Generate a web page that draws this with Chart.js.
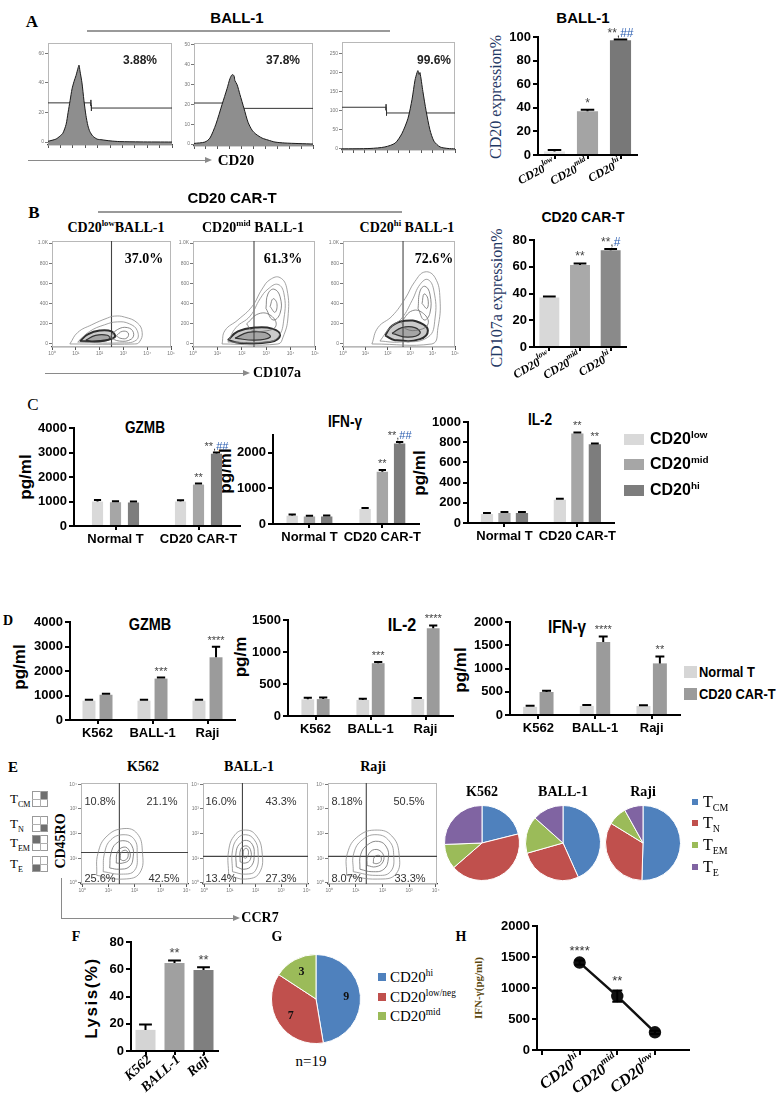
<!DOCTYPE html>
<html>
<head>
<meta charset="utf-8">
<title>CD20 CAR-T figure</title>
<script src="https://cdn.jsdelivr.net/npm/chart.js@4.4.1/dist/chart.umd.min.js"></script>
<style>
  html, body { margin: 0; padding: 0; background: #fff; }
  body { position: relative; width: 776px; height: 1102px; overflow: hidden; }
  .t { position: absolute; transform: translate(-50%, -50%); white-space: nowrap; line-height: 1; color: #000; }
  .t sup, .t sub { font-size: 62%; line-height: 0; }
  .ln { position: absolute; }
  canvas { position: absolute; }
</style>
</head>
<body>
<script>
// ---------- A: CD20 histograms (x in log decades, y = count) ----------
const histLowX = [0, 0.32, 0.48, 0.6, 0.73, 0.81, 0.89, 0.97, 1.05, 1.13, 1.21, 1.25, 1.29, 1.37, 1.45, 1.53, 1.61, 1.69, 1.81, 1.98, 2.18, 2.5, 2.9, 3.71, 5];
const histLowY = [0.5, 2, 4, 6, 12, 20, 28, 36, 41, 45, 50, 52, 48, 40, 28, 18, 11, 7, 4, 2, 1.5, 0.8, 0.3, 0.1, 0];
const histMidX = [0, 0.46, 0.67, 0.92, 1.18, 1.39, 1.51, 1.6, 1.68, 1.72, 1.81, 1.93, 2.1, 2.27, 2.44, 2.6, 2.86, 3.11, 3.4, 3.82, 5];
const histMidY = [0.3, 1, 3, 10, 20, 28, 33, 35, 34.5, 32, 30, 25, 18, 11, 7, 5, 3, 2, 1, 0.5, 0];
const histHiX = [0, 1.24, 1.9, 2.35, 2.65, 2.92, 3.1, 3.23, 3.32, 3.36, 3.41, 3.45, 3.58, 3.72, 3.89, 4.07, 4.34, 4.69, 5];
const histHiY = [0, 1, 5, 15, 40, 80, 130, 180, 200, 205, 195, 200, 150, 100, 50, 20, 5, 1, 0];
const gateLowL = [[0, 26.5], [1.73, 26.5], [1.73, 28.5], [1.73, 24.5]];
const gateLowR = [[1.75, 25], [1.75, 21], [1.75, 23], [5, 23]];
const gateMidL = [[0, 20.7], [1.72, 20.7], [1.72, 22.2], [1.72, 19.2]];
const gateMidR = [[1.74, 19.5], [1.74, 16.5], [1.74, 18], [5, 18]];
const gateHiL = [[0, 109], [1.95, 109], [1.95, 117], [1.95, 101]];
const gateHiR = [[1.97, 101], [1.97, 87], [1.97, 94], [5, 94]];
const histPct = ['3.88%', '37.8%', '99.6%'];

const sublines = [['CD20', 'low'], ['CD20', 'mid'], ['CD20', 'hi']];
const cd20Expr = [3, 37, 97.2];
const cd20ExprErr = [1.2, 1.3, 0.6];
const cd20ExprStars = ['', '*', '**,##'];

// ---------- B: CD107a contours (x decades, y scatter) ----------
const b1Loops = [
  [[0.75, 0], [1.08, 114], [1.67, 190], [2.33, 257], [2.63, 276], [3.04, 267], [3.58, 210], [3.79, 114], [3.67, 19], [3.46, 0]],
  [[1.08, 19], [1.58, 124], [2.21, 190], [2.75, 219], [3.25, 200], [3.58, 133], [3.54, 38], [2.83, 10]],
  [[2.42, 67], [2.75, 143], [3.17, 162], [3.42, 114], [3.33, 48], [2.83, 29]],
  [[2.7, 80], [2.95, 125], [3.2, 110], [3.15, 60], [2.9, 55]]
];
const b1Core = [
  [[1.17, 29], [1.5, 95], [2.0, 133], [2.5, 124], [2.63, 67], [2.0, 29]],
  [[1.42, 38], [1.83, 86], [2.33, 86], [2.42, 48], [1.79, 19]]
];
const b2Loops = [
  [[1.19, 0], [1.31, 133], [1.84, 238], [2.42, 371], [2.83, 543], [3.16, 638], [3.57, 657], [3.85, 543], [3.89, 257], [3.69, 67], [3.48, 0]],
  [[1.43, 19], [1.76, 162], [2.34, 276], [2.75, 448], [3.07, 543], [3.48, 590], [3.73, 495], [3.73, 257], [3.48, 67], [2.95, 19]],
  [[2.99, 352], [3.07, 495], [3.32, 543], [3.57, 467], [3.57, 305], [3.28, 238]],
  [[3.16, 371], [3.28, 448], [3.44, 400], [3.36, 314]],
  [[2.2, 200], [2.7, 300], [3.2, 280], [3.4, 180], [3.0, 130], [2.4, 140]]
];
const b2Core = [
  [[1.43, 38], [1.84, 124], [2.54, 162], [3.24, 152], [3.57, 86], [3.16, 19], [1.93, 10]],
  [[1.72, 57], [2.25, 114], [2.95, 114], [3.16, 67], [2.54, 38]]
];
const b3Loops = [
  [[1.29, 0], [1.56, 162], [2.19, 276], [2.77, 448], [3.21, 619], [3.66, 714], [4.11, 657], [4.33, 448], [4.24, 162], [3.97, 0]],
  [[1.65, 29], [2.1, 162], [2.63, 257], [3.08, 429], [3.44, 590], [3.79, 638], [4.06, 524], [4.11, 257], [3.79, 67], [2.54, 19]],
  [[3.35, 352], [3.44, 524], [3.66, 571], [3.88, 495], [3.88, 305], [3.62, 238]],
  [[3.53, 400], [3.62, 495], [3.79, 448], [3.75, 352]],
  [[2.6, 220], [3.1, 330], [3.6, 300], [3.8, 200], [3.4, 140], [2.8, 150]]
];
const b3Core = [
  [[1.88, 86], [2.19, 181], [2.77, 229], [3.44, 210], [3.79, 133], [3.44, 48], [2.32, 38]],
  [[2.19, 105], [2.63, 162], [3.21, 162], [3.44, 105], [2.9, 67]]
];
const cd107Gate = [2.5, 2.5, 2.68];
const cd107Pct = ['37.0%', '61.3%', '72.6%'];

const cd107a = [37.0, 61.3, 72.3];
const cd107aErr = [0.8, 1.2, 1.0];
const cd107aStars = ['', '**', '**,#'];

// ---------- C: cytokines vs CD20 level ----------
const groupsC = ['Normal T', 'CD20 CAR-T'];
const gzmbLow = [1000, 1000], gzmbMid = [970, 1690], gzmbHi = [960, 2950];
const gzmbLowErr = [60, 55], gzmbMidErr = [45, 40], gzmbHiErr = [40, 45];
const gzmbMidStars = ['', '**'], gzmbHiStars = ['', '**,##'];
const ifnLow = [230, 420], ifnMid = [210, 1470], ifnHi = [210, 2260];
const ifnLowErr = [35, 30], ifnMidErr = [25, 45], ifnHiErr = [30, 45];
const ifnMidStars = ['', '**'], ifnHiStars = ['', '**,##'];
const il2Low = [90, 230], il2Mid = [100, 885], il2Hi = [100, 780];
const il2LowErr = [10, 10], il2MidErr = [10, 12], il2HiErr = [10, 8];
const il2MidStars = ['', '**'], il2HiStars = ['', '**'];

// ---------- D: cytokines vs target line ----------
const targets = ['K562', 'BALL-1', 'Raji'];
const dGzmbNormal = [790, 790, 790], dGzmbCar = [1030, 1690, 2560];
const dGzmbNormalErr = [35, 35, 35], dGzmbCarErr = [40, 40, 430];
const dGzmbStars = ['', '***', '****'];
const dIl2Normal = [260, 250, 265], dIl2Car = [265, 825, 1370];
const dIl2NormalErr = [25, 20, 15], dIl2CarErr = [25, 20, 45];
const dIl2Stars = ['', '***', '****'];
const dIfnNormal = [175, 195, 195], dIfnCar = [495, 1570, 1110];
const dIfnNormalErr = [25, 20, 15], dIfnCarErr = [25, 120, 150];
const dIfnStars = ['', '****', '**'];

// ---------- E: memory phenotype ----------
const memLabels = ['TCM', 'TN', 'TEM', 'TE'];
const k562Mem = [21.1, 42.5, 10.8, 25.6];
const ball1Mem = [43.3, 27.3, 16.0, 13.4];
const rajiMem = [50.5, 33.3, 8.18, 8.07];
const e1Quad = ['10.8%', '21.1%', '25.6%', '42.5%'];
const e2Quad = ['16.0%', '43.3%', '13.4%', '27.3%'];
const e3Quad = ['8.18%', '50.5%', '8.07%', '33.3%'];
const eGateX = [1.42, 1.49, 1.39];
const eGateY = [1.23, 1.07, 1.07];
const e1Loops = [
  [[0.55, 0.3], [0.6, 1.2], [0.95, 1.9], [1.6, 2.2], [2.1, 2.0], [2.3, 1.3], [2.2, 0.4], [1.6, 0.15]],
  [[0.8, 0.45], [0.85, 1.2], [1.1, 1.75], [1.6, 1.95], [2.0, 1.75], [2.1, 1.2], [2.0, 0.5], [1.5, 0.35]],
  [[1.05, 0.6], [1.1, 1.2], [1.3, 1.6], [1.65, 1.7], [1.9, 1.5], [1.95, 1.05], [1.8, 0.65], [1.4, 0.55]],
  [[1.3, 0.8], [1.35, 1.25], [1.6, 1.45], [1.8, 1.3], [1.8, 0.95], [1.55, 0.8]],
  [[1.45, 0.95], [1.5, 1.25], [1.7, 1.3], [1.75, 1.05], [1.6, 0.9]]
];
const e2Loops = [
  [[0.95, 0.3], [0.95, 1.3], [1.2, 1.95], [1.6, 2.14], [2.0, 1.95], [2.25, 1.3], [2.15, 0.4], [1.6, 0.15]],
  [[1.1, 0.45], [1.1, 1.3], [1.3, 1.8], [1.62, 1.95], [1.95, 1.75], [2.1, 1.25], [2.0, 0.5], [1.6, 0.35]],
  [[1.25, 0.65], [1.25, 1.3], [1.42, 1.62], [1.65, 1.72], [1.88, 1.55], [1.95, 1.15], [1.85, 0.7], [1.55, 0.55]],
  [[1.4, 0.85], [1.42, 1.35], [1.62, 1.5], [1.8, 1.35], [1.8, 0.95], [1.6, 0.8]],
  [[1.52, 1.05], [1.55, 1.35], [1.68, 1.38], [1.72, 1.15], [1.62, 1.0]]
];
const e3Loops = [
  [[0.65, 0.3], [0.68, 1.2], [1.1, 1.9], [1.8, 2.14], [2.35, 1.9], [2.62, 1.2], [2.5, 0.35], [1.8, 0.15]],
  [[0.9, 0.45], [0.92, 1.2], [1.25, 1.75], [1.8, 1.95], [2.25, 1.7], [2.42, 1.15], [2.3, 0.45], [1.75, 0.3]],
  [[1.15, 0.55], [1.18, 1.15], [1.45, 1.55], [1.85, 1.68], [2.15, 1.45], [2.22, 1.0], [2.05, 0.55], [1.6, 0.45]],
  [[1.42, 0.7], [1.45, 1.1], [1.7, 1.35], [2.0, 1.2], [2.02, 0.85], [1.75, 0.65]],
  [[1.65, 0.8], [1.7, 1.05], [1.9, 1.1], [1.95, 0.9], [1.8, 0.78]]
];

// ---------- F, G, H ----------
const lysisTargets = [['K562', ''], ['BALL-1', ''], ['Raji', '']];
const lysis = [15.5, 64.5, 59.5];
const lysisErr = [4, 2, 2];
const lysisStars = ['', '**', '**'];

const patientGroups = ['CD20hi', 'CD20low/neg', 'CD20mid'];
const patientCounts = [9, 7, 3];

const levelLabels = [['CD20', 'hi'], ['CD20', 'mid'], ['CD20', 'low']];
const ifnByLevel = [1410, 870, 285];
const ifnByLevelErr = [35, 90, 25];
const ifnByLevelStars = ['****', '**', ''];

// ---------- styling ----------
const fSans = '"Liberation Sans", Arial, sans-serif';
const fSerif = '"Liberation Serif", "Times New Roman", serif';
const pieColors = ['#4f81bd', '#c0504d', '#9bbb59', '#8064a2'];
const tiny = { family: fSans, size: 5 };
const boldTick = size => ({ family: fSans, size, weight: 'bold' });

Chart.defaults.animation = false;
Chart.defaults.responsive = false;
Chart.defaults.events = [];
Chart.defaults.plugins.legend.display = false;
Chart.defaults.plugins.tooltip.enabled = false;
Chart.defaults.color = '#000';

// error bars from dataset.err
Chart.register({
  id: 'errBars',
  afterDatasetsDraw(chart, args, o) {
    const ctx = chart.ctx, ys = chart.scales.y;
    chart.data.datasets.forEach((ds, di) => {
      if (!ds.err) return;
      const meta = chart.getDatasetMeta(di);
      ctx.save();
      ctx.strokeStyle = '#000';
      ctx.lineWidth = o.width || 2;
      meta.data.forEach((el, j) => {
        const raw = ds.data[j];
        const v = typeof raw === 'object' ? raw.y : raw;
        const e = ds.err[j];
        const top = ys.getPixelForValue(v + e);
        const bot = o.both ? ys.getPixelForValue(v - e) : el.y;
        const half = o.cap || el.width * 0.32;
        ctx.beginPath();
        ctx.moveTo(el.x, bot); ctx.lineTo(el.x, top);
        ctx.moveTo(el.x - half, top); ctx.lineTo(el.x + half, top);
        if (o.both) { ctx.moveTo(el.x - half, bot); ctx.lineTo(el.x + half, bot); }
        ctx.stroke();
      });
      ctx.restore();
    });
  }
});

// significance marks above bars / points
Chart.register({
  id: 'stars',
  afterDatasetsDraw(chart, args, o) {
    const ctx = chart.ctx, ys = chart.scales.y;
    chart.data.datasets.forEach((ds, di) => {
      if (!ds.stars) return;
      const meta = chart.getDatasetMeta(di);
      ctx.save();
      ctx.font = o.font || '11px ' + fSans;
      ctx.textBaseline = 'alphabetic';
      meta.data.forEach((el, j) => {
        const s = ds.stars[j];
        if (!s) return;
        const raw = ds.data[j];
        const v = (typeof raw === 'object' ? raw.y : raw) + (ds.err ? ds.err[j] : 0);
        const y = ys.getPixelForValue(v) - (o.gap || 3);
        let x = el.x - ctx.measureText(s).width / 2;
        for (const ch of s) {
          ctx.fillStyle = ch === '#' ? (o.hashColor || '#444') : (o.color || '#444');
          ctx.fillText(ch, x, y);
          x += ctx.measureText(ch).width;
        }
      });
      ctx.restore();
    });
  }
});

// rotated category labels with superscripts
Chart.register({
  id: 'xlab',
  afterDraw(chart, args, o) {
    const items = chart.data.xlab;
    if (!items) return;
    const ctx = chart.ctx, sc = chart.scales.x;
    ctx.save();
    ctx.fillStyle = '#000';
    ctx.textBaseline = 'middle';
    items.forEach((it, i) => {
      const v = chart.data.xlabAt ? chart.data.xlabAt[i] : i;
      ctx.save();
      ctx.translate(sc.getPixelForValue(v) + (o.dx || 0), chart.chartArea.bottom + (o.dy || 10));
      ctx.rotate(-o.angle * Math.PI / 180);
      ctx.font = o.font;
      const wb = ctx.measureText(it[0]).width;
      ctx.font = o.supFont || o.font;
      const ws = it[1] ? ctx.measureText(it[1]).width : 0;
      ctx.font = o.font;
      ctx.fillText(it[0], -wb - ws, 0);
      if (it[1]) { ctx.font = o.supFont; ctx.fillText(it[1], -ws, -(o.rise || 4)); }
      ctx.restore();
    });
    ctx.restore();
  }
});

// light frame round flow plots
Chart.register({
  id: 'frame',
  beforeDatasetsDraw(chart, args, o) {
    if (!o.color) return;
    const a = chart.chartArea, ctx = chart.ctx;
    ctx.save();
    ctx.strokeStyle = o.color; ctx.lineWidth = 1;
    ctx.strokeRect(a.left + 0.5, a.top + 0.5, a.width - 1, a.height - 1);
    ctx.restore();
  }
});

// counts inside pie slices
Chart.register({
  id: 'sliceNums',
  afterDatasetsDraw(chart, args, o) {
    if (!o.show) return;
    const ctx = chart.ctx, meta = chart.getDatasetMeta(0), vals = chart.data.datasets[0].data;
    ctx.save();
    ctx.font = o.font; ctx.fillStyle = '#111';
    ctx.textAlign = 'center'; ctx.textBaseline = 'middle';
    meta.data.forEach((arc, i) => {
      const a = (arc.startAngle + arc.endAngle) / 2, r = arc.outerRadius * 0.68;
      ctx.fillText(String(vals[i]), arc.x + Math.cos(a) * r, arc.y + Math.sin(a) * r);
    });
    ctx.restore();
  }
});

// ---------- helpers ----------
function txt(html, x, y, font, extra) {
  const d = document.createElement('div');
  d.className = 't';
  d.innerHTML = html;
  d.style.cssText = 'left:' + x + 'px;top:' + y + 'px;font:' + font + ';' + (extra || '');
  document.body.appendChild(d);
  return d;
}
const rot = 'transform:translate(-50%,-50%) rotate(-90deg);';
const leftMid = 'transform:translate(0,-50%);';
function box(x, y, w, h, css) {
  const d = document.createElement('div');
  d.className = 'ln';
  d.style.cssText = 'left:' + x + 'px;top:' + y + 'px;width:' + w + 'px;height:' + h + 'px;' + css;
  document.body.appendChild(d);
  return d;
}
function arrow(x1, x2, y) {
  box(x1, y, x2 - x1, 1, 'background:#8a8a8a');
  box(x2, y - 3, 0, 0, 'border-left:7px solid #8a8a8a;border-top:3.5px solid transparent;border-bottom:3.5px solid transparent');
}
function canvasAt(l, t, w, h) {
  const c = document.createElement('canvas');
  c.width = w; c.height = h;
  c.style.left = l + 'px'; c.style.top = t + 'px';
  document.body.appendChild(c);
  return c;
}
// place a chart so that its plot area is exactly area = [l, t, r, b]
function axisChart(area, pad, cfg) {
  const [l, t, r, b] = area, [pl, pt, pr, pb] = pad;
  const c = canvasAt(l - pl, t - pt, r - l + pl + pr, b - t + pt + pb);
  cfg.options.layout = { padding: { left: 0, top: pt, right: pr, bottom: 0 } };
  cfg.options.scales.x.afterFit = s => { s.height = pb; };
  cfg.options.scales.y.afterFit = s => { s.width = pl; };
  return new Chart(c, cfg);
}
const pts = arr => arr.map(([x, y]) => ({ x, y }));
const loop = arr => pts(arr.concat([arr[0]]));

function barChart(area, pad, labels, sets, o) {
  return axisChart(area, pad, {
    type: 'bar',
    data: {
      labels,
      xlab: o.xlab,
      datasets: sets.map(s => ({
        data: s.data, err: s.err, stars: s.stars,
        backgroundColor: s.color, borderWidth: 0,
        barPercentage: o.barPct, categoryPercentage: o.catPct
      }))
    },
    options: {
      plugins: {
        errBars: { width: o.errW || 2 },
        stars: { font: o.starFont || '11px ' + fSans, color: '#444', hashColor: '#2a5db0', gap: o.starGap || 3 },
        xlab: o.xlabStyle || {}
      },
      scales: {
        x: {
          type: 'category', offset: true,
          ticks: { display: !o.xlab, font: o.tickFont, color: '#000', autoSkip: false, maxRotation: 0, padding: 2 },
          grid: { drawOnChartArea: false, offset: false, tickLength: 4, color: '#000', lineWidth: 2 },
          border: { color: '#000', width: 2 }
        },
        y: {
          min: 0, max: o.max,
          ticks: { stepSize: o.step, font: o.tickFont, color: '#000', padding: 2, callback: v => String(v) },
          grid: { drawOnChartArea: false, tickLength: 5, color: '#000', lineWidth: 2 },
          border: { color: '#000', width: 2 }
        }
      }
    }
  });
}

function flowChart(area, datasets, y, x) {
  return axisChart(area, [16, 5, 5, 9], {
    type: 'scatter',
    data: { datasets },
    options: {
      plugins: { frame: { color: '#b8b8b8' } },
      scales: {
        x: {
          type: 'linear', min: x.min, max: x.max,
          ticks: { stepSize: x.step, font: tiny, color: '#777', padding: 1, includeBounds: false, display: !!x.sup,
                   callback: v => '10' + ('⁰¹²³⁴⁵'[Math.round(v)] || '') },
          grid: { drawOnChartArea: false, tickLength: 3, color: '#555' },
          border: { color: '#444', width: 1.2 }
        },
        y: {
          type: 'linear', min: y.min, max: y.max,
          ticks: { stepSize: y.step, font: tiny, color: '#777', padding: 1, includeBounds: false,
                   callback: v => y.log ? '10' + ('⁰¹²³⁴⁵'[Math.round(v)] || '') : (v >= 1000 ? (v / 1000).toFixed(1) + 'K' : String(v)) },
          grid: { drawOnChartArea: false, tickLength: 3, color: '#777' },
          border: { color: '#888', width: 1 }
        }
      }
    }
  });
}

function histSets(xs, ys, gl, gr) {
  return [
    { data: xs.map((x, i) => ({ x, y: ys[i] })), showLine: true, pointRadius: 0, tension: 0.25,
      borderColor: '#1a1a1a', borderWidth: 1, backgroundColor: '#8e8e8e', fill: 'start' },
    { data: pts(gl), showLine: true, pointRadius: 0, borderColor: '#333', borderWidth: 1 },
    { data: pts(gr), showLine: true, pointRadius: 0, borderColor: '#333', borderWidth: 1 }
  ];
}
function contourSets(loops, core, gates) {
  const out = loops.map((l, i) => ({ data: loop(l), showLine: true, pointRadius: 0, tension: 0.45,
    borderColor: i < 2 ? '#8c8c8c' : '#6d6d6d', borderWidth: 0.8, fill: false }));
  (core || []).forEach((l, i) => out.push({ data: loop(l), showLine: true, pointRadius: 0, tension: 0.45,
    borderColor: '#2e2e2e', borderWidth: i ? 1.2 : 2, backgroundColor: 'rgba(70,70,70,0.28)', fill: 'shape' }));
  gates.forEach(g => out.push({ data: pts(g), showLine: true, pointRadius: 0, borderColor: '#444', borderWidth: 1.1 }));
  return out;
}
function pie(cx, cy, r, values, colors, nums) {
  const c = canvasAt(cx - r, cy - r, 2 * r, 2 * r);
  return new Chart(c, {
    type: 'pie',
    data: { labels: values.map((v, i) => i), datasets: [{ data: values, backgroundColor: colors, borderColor: '#fff', borderWidth: 1 }] },
    options: { layout: { padding: 1 }, plugins: { sliceNums: { show: !!nums, font: 'bold 12px ' + fSerif } } }
  });
}
function icon(x, y, q) {
  const g = box(x, y, 16, 16, 'border:1px solid #9a9a9a;background:#fff;box-sizing:border-box');
  box(x + 7.5, y, 1, 16, 'background:#b0b0b0');
  box(x, y + 7.5, 16, 1, 'background:#b0b0b0');
  box(x + 1 + (q % 2) * 7.5, y + 1 + Math.floor(q / 2) * 7.5, 6.5, 6.5, 'background:#6f6f6f');
  return g;
}

// ================= PANEL A =================
txt('A', 32, 22, 'bold 17px ' + fSerif);
txt('BALL-1', 237, 17, 'bold 15px ' + fSans);
box(87, 30, 303, 1.5, 'background:#9a9a9a');
flowChart([48, 43, 172, 145], histSets(histLowX, histLowY, gateLowL, gateLowR), { min: -2, max: 67, step: 20 }, { min: 0, max: 5, step: 0.5 });
flowChart([194, 43, 313, 146], histSets(histMidX, histMidY, gateMidL, gateMidR), { min: -1, max: 51, step: 10 }, { min: 0, max: 5, step: 0.5 });
flowChart([342, 42, 455, 150], histSets(histHiX, histHiY, gateHiL, gateHiR), { min: -3, max: 280, step: 50 }, { min: 0, max: 5, step: 0.5 });
[140, 283, 434].forEach((x, i) => txt(histPct[i], x, 60, 'bold 12px ' + fSans, 'color:#222'));
arrow(28, 205, 160);
txt('CD20', 236, 160, 'bold 15px ' + fSerif);

txt('BALL-1', 583, 17, 'bold 15px ' + fSans);
txt('CD20 expression%', 496, 97, '16px ' + fSerif, 'color:#1f3864;' + rot);
barChart([538, 37, 637, 155], [42, 12, 8, 38], sublines.map(s => s.join('')),
  [{ data: cd20Expr, err: cd20ExprErr, stars: cd20ExprStars, color: ['#e4e4e4', '#a4a4a4', '#787878'] }],
  { max: 100, step: 20, tickFont: boldTick(13), catPct: 1, barPct: 0.64,
    xlab: sublines, xlabStyle: { font: 'italic bold 12px ' + fSerif, supFont: 'italic bold 8px ' + fSerif, angle: 28, dy: 8, rise: 5 },
    starFont: '12px ' + fSans });

// ================= PANEL B =================
txt('B', 34, 213, 'bold 17px ' + fSerif);
txt('CD20 CAR-T', 232, 197, 'bold 15px ' + fSans);
box(98, 211, 304, 1.5, 'background:#9a9a9a');
txt('CD20<sup>low</sup>BALL-1', 116, 228, 'bold 14px ' + fSerif);
txt('CD20<sup>mid</sup> BALL-1', 253, 228, 'bold 14px ' + fSerif);
txt('CD20<sup>hi</sup> BALL-1', 407, 228, 'bold 14px ' + fSerif);
const bAreas = [[52, 241, 171, 347], [193, 241, 315, 347], [343, 241, 455, 347]];
[[b1Loops, b1Core], [b2Loops, b2Core], [b3Loops, b3Core]].forEach(([lp, cr], i) => {
  const g = cd107Gate[i];
  flowChart(bAreas[i], contourSets(lp, cr, [[[g, -100], [g, 1100]]]), { min: -30, max: 1020, step: 200 }, { min: 0, max: 5, step: 1, sup: true });
});
[144, 283, 434].forEach((x, i) => txt(cd107Pct[i], x, 259, 'bold 14px ' + fSerif));
arrow(45, 243, 373);
txt('CD107a', 277, 373, 'bold 14px ' + fSerif);

txt('CD20 CAR-T', 583, 217, 'bold 14px ' + fSans);
txt('CD107a expression%', 497, 298, '16px ' + fSerif, 'color:#1f3864;' + rot);
barChart([534, 240, 626, 347], [42, 12, 10, 40], sublines.map(s => s.join('')),
  [{ data: cd107a, err: cd107aErr, stars: cd107aStars, color: ['#d8d8d8', '#a9a9a9', '#8a8a8a'] }],
  { max: 80, step: 20, tickFont: boldTick(13), catPct: 1, barPct: 0.65,
    xlab: sublines, xlabStyle: { font: 'italic bold 12px ' + fSerif, supFont: 'italic bold 8px ' + fSerif, angle: 30, dy: 9, rise: 5 },
    starFont: '12px ' + fSans });

// ================= PANEL C =================
const cCol = ['#d9d9d9', '#a6a6a6', '#7d7d7d'];
txt('C', 33, 405, '17px ' + fSerif);
txt('GZMB', 145, 428, 'bold 16px ' + fSans, 'transform:translate(-50%,-50%) scaleX(0.85)');
txt('IFN-γ', 345, 422, 'bold 16px ' + fSans, 'transform:translate(-50%,-50%) scaleX(0.85)');
txt('IL-2', 540, 420, 'bold 16px ' + fSans, 'transform:translate(-50%,-50%) scaleX(0.85)');
[[26, 477], [226, 471], [420, 473]].forEach(([x, y]) => txt('pg/ml', x, y, 'bold 17px ' + fSans, rot));
barChart([74, 428, 240, 526], [42, 10, 4, 22], groupsC, [
  { data: gzmbLow, err: gzmbLowErr, color: cCol[0] },
  { data: gzmbMid, err: gzmbMidErr, stars: gzmbMidStars, color: cCol[1] },
  { data: gzmbHi, err: gzmbHiErr, stars: gzmbHiStars, color: cCol[2] }
], { max: 4000, step: 1000, tickFont: boldTick(13), catPct: 0.65, barPct: 0.62 });
barChart([273, 435, 420, 524], [42, 10, 4, 22], groupsC, [
  { data: ifnLow, err: ifnLowErr, color: cCol[0] },
  { data: ifnMid, err: ifnMidErr, stars: ifnMidStars, color: cCol[1] },
  { data: ifnHi, err: ifnHiErr, stars: ifnHiStars, color: cCol[2] }
], { max: 2500, step: 500, tickFont: boldTick(13), catPct: 0.71, barPct: 0.66 });
barChart([468, 422, 615, 523], [42, 10, 4, 22], groupsC, [
  { data: il2Low, err: il2LowErr, color: cCol[0] },
  { data: il2Mid, err: il2MidErr, stars: il2MidStars, color: cCol[1] },
  { data: il2Hi, err: il2HiErr, stars: il2HiStars, color: cCol[2] }
], { max: 1000, step: 200, tickFont: boldTick(13), catPct: 0.72, barPct: 0.7 });
[['low', 439], ['mid', 464], ['hi', 490]].forEach(([s, y], i) => {
  box(624, y - 5, 20, 11, 'background:' + cCol[i]);
  txt('CD20<sup>' + s + '</sup>', 650, y, 'bold 16px ' + fSans, leftMid);
});

// ================= PANEL D =================
const dCol = ['#d6d6d6', '#9b9b9b'];
txt('D', 8, 621, 'bold 14px ' + fSerif);
txt('GZMB', 150, 625, 'bold 17px ' + fSans, 'transform:translate(-50%,-50%) scaleX(0.85)');
txt('IL-2', 402, 625, 'bold 19px ' + fSans, 'transform:translate(-50%,-50%) scaleX(0.85)');
txt('IFN-γ', 567, 627, 'bold 18px ' + fSans, 'transform:translate(-50%,-50%) scaleX(0.85)');
txt('pg/ml', 20, 667, 'bold 17px ' + fSans, rot);
txt('pg/m', 241, 657, 'bold 17px ' + fSans, rot);
txt('pg/ml', 461, 670, 'bold 17px ' + fSans, rot);
barChart([70, 622, 235, 720], [42, 10, 4, 24], targets, [
  { data: dGzmbNormal, err: dGzmbNormalErr, color: dCol[0] },
  { data: dGzmbCar, err: dGzmbCarErr, stars: dGzmbStars, color: dCol[1] }
], { max: 4000, step: 1000, tickFont: boldTick(13), catPct: 0.62, barPct: 0.76 });
barChart([288, 620, 453, 716], [42, 10, 4, 28], targets, [
  { data: dIl2Normal, err: dIl2NormalErr, color: dCol[0] },
  { data: dIl2Car, err: dIl2CarErr, stars: dIl2Stars, color: dCol[1] }
], { max: 1500, step: 500, tickFont: boldTick(13), catPct: 0.56, barPct: 0.83 });
barChart([510, 622, 680, 715], [42, 10, 4, 29], targets, [
  { data: dIfnNormal, err: dIfnNormalErr, color: dCol[0] },
  { data: dIfnCar, err: dIfnCarErr, stars: dIfnStars, color: dCol[1] }
], { max: 2000, step: 500, tickFont: boldTick(13), catPct: 0.58, barPct: 0.85 });
[['Normal T', 672], ['CD20 CAR-T', 694]].forEach(([s, y], i) => {
  box(684, y - 6, 13, 12, 'background:' + dCol[i]);
  txt(s, 699, y, 'bold 14px ' + fSans, 'transform:translate(0,-50%) scaleX(0.92);transform-origin:0 50%');
});

// ================= PANEL E =================
txt('E', 13, 767, 'bold 15px ' + fSerif);
txt('K562', 143, 767, 'bold 14px ' + fSerif);
txt('BALL-1', 249, 767, 'bold 14px ' + fSerif);
txt('Raji', 373, 767, 'bold 14px ' + fSerif);
[['T<sub>CM</sub>', 799, 1], ['T<sub>N</sub>', 824, 3], ['T<sub>EM</sub>', 843, 0], ['T<sub>E</sub>', 864, 2]].forEach(([s, y, q]) => {
  txt(s, 10, y, '13px ' + fSerif, leftMid);
  icon(32, y - 8, q);
});
txt('CD45RO', 61, 841, 'bold 14px ' + fSerif, rot);
const eAreas = [[81, 783, 188, 884], [203, 783, 308, 884], [328, 783, 437, 884]];
[e1Loops, e2Loops, e3Loops].forEach((lp, i) => {
  const gx = eGateX[i], gy = eGateY[i];
  flowChart(eAreas[i], contourSets(lp, null, [[[gx, -1], [gx, 5]], [[-1, gy], [5, gy]]]),
    { min: -0.05, max: 4.05, step: 1, log: true }, { min: -0.05, max: 4.05, step: 1, sup: true });
});
const quadPos = [[[100, 801], [162, 801], [100, 878], [164, 878]], [[221, 801], [281, 801], [221, 878], [281, 878]], [[347, 801], [409, 801], [347, 878], [410, 878]]];
[e1Quad, e2Quad, e3Quad].forEach((q, i) => q.forEach((s, j) => txt(s, quadPos[i][j][0], quadPos[i][j][1], '11px ' + fSans, 'color:#333')));
box(61, 878, 1, 40, 'background:#8a8a8a');
arrow(61, 233, 918);
txt('CCR7', 260, 918, 'bold 14px ' + fSerif);

[['K562', 482, k562Mem], ['BALL-1', 563, ball1Mem], ['Raji', 643, rajiMem]].forEach(([n, x, v]) => {
  txt(n, x, 792, 'bold 14px ' + fSerif);
  pie(x, 843, 39, v, pieColors);
});
[['T<sub>CM</sub>', 802], ['T<sub>N</sub>', 823], ['T<sub>EM</sub>', 845], ['T<sub>E</sub>', 867]].forEach(([s, y], i) => {
  box(692, y - 3, 6, 6, 'background:' + pieColors[i]);
  txt(s, 703, y, '16px ' + fSerif, leftMid);
});

// ================= PANEL F =================
txt('F', 76, 937, 'bold 14px ' + fSerif);
txt('Lysis(%)', 92, 998, 'bold 17px ' + fSans, 'letter-spacing:1.5px;' + rot);
barChart([131, 942, 218, 1051], [32, 12, 6, 48], lysisTargets.map(s => s[0]),
  [{ data: lysis, err: lysisErr, stars: lysisStars, color: ['#d4d4d4', '#a0a0a0', '#7f7f7f'] }],
  { max: 80, step: 20, tickFont: boldTick(13), catPct: 1, barPct: 0.69,
    xlab: lysisTargets, xlabStyle: { font: 'italic bold 14px ' + fSerif, angle: 42, dy: 7, dx: 4 }, starFont: '13px ' + fSans });

// ================= PANEL G =================
txt('G', 277, 937, 'bold 14px ' + fSerif);
pie(316, 999, 46, patientCounts, pieColors.slice(0, 3), true);
[['CD20<sup>hi</sup>', 977], ['CD20<sup>low/neg</sup>', 997], ['CD20<sup>mid</sup>', 1016]].forEach(([s, y], i) => {
  box(378, y - 4, 8, 8, 'background:' + pieColors[i]);
  txt(s, 390, y, '15px ' + fSerif, leftMid);
});
txt('n=19', 311, 1061, '15px ' + fSerif);

// ================= PANEL H =================
txt('H', 461, 937, 'bold 14px ' + fSerif);
txt('IFN-γ(pg/ml)', 478, 988, 'bold 11px ' + fSerif, 'color:#5c4a12;' + rot);
axisChart([537, 926, 690, 1050], [40, 12, 6, 55], {
  type: 'scatter',
  data: {
    xlab: levelLabels, xlabAt: [1, 2, 3],
    datasets: [{
      data: ifnByLevel.map((y, i) => ({ x: i + 1, y })), err: ifnByLevelErr, stars: ifnByLevelStars,
      showLine: true, borderColor: '#111', borderWidth: 2.5, pointRadius: 5,
      pointBackgroundColor: '#111', pointBorderColor: '#111'
    }]
  },
  options: {
    plugins: {
      errBars: { width: 2, both: true, cap: 5 },
      stars: { font: '13px ' + fSans, color: '#333', gap: 5 },
      xlab: { font: 'italic bold 16px ' + fSerif, supFont: 'italic bold 10px ' + fSerif, angle: 36, dy: 9, rise: 6 }
    },
    scales: {
      x: { type: 'linear', min: -0.13, max: 3.89, ticks: { display: false, stepSize: 1, includeBounds: false },
           grid: { drawOnChartArea: false, tickLength: 5, color: '#000', lineWidth: 2 }, border: { color: '#000', width: 2 } },
      y: { min: 0, max: 2000, ticks: { stepSize: 500, font: boldTick(13), color: '#000', padding: 2, callback: v => String(v) },
           grid: { drawOnChartArea: false, tickLength: 5, color: '#000', lineWidth: 2 }, border: { color: '#000', width: 2 } }
    }
  }
});
</script>
</body>
</html>
